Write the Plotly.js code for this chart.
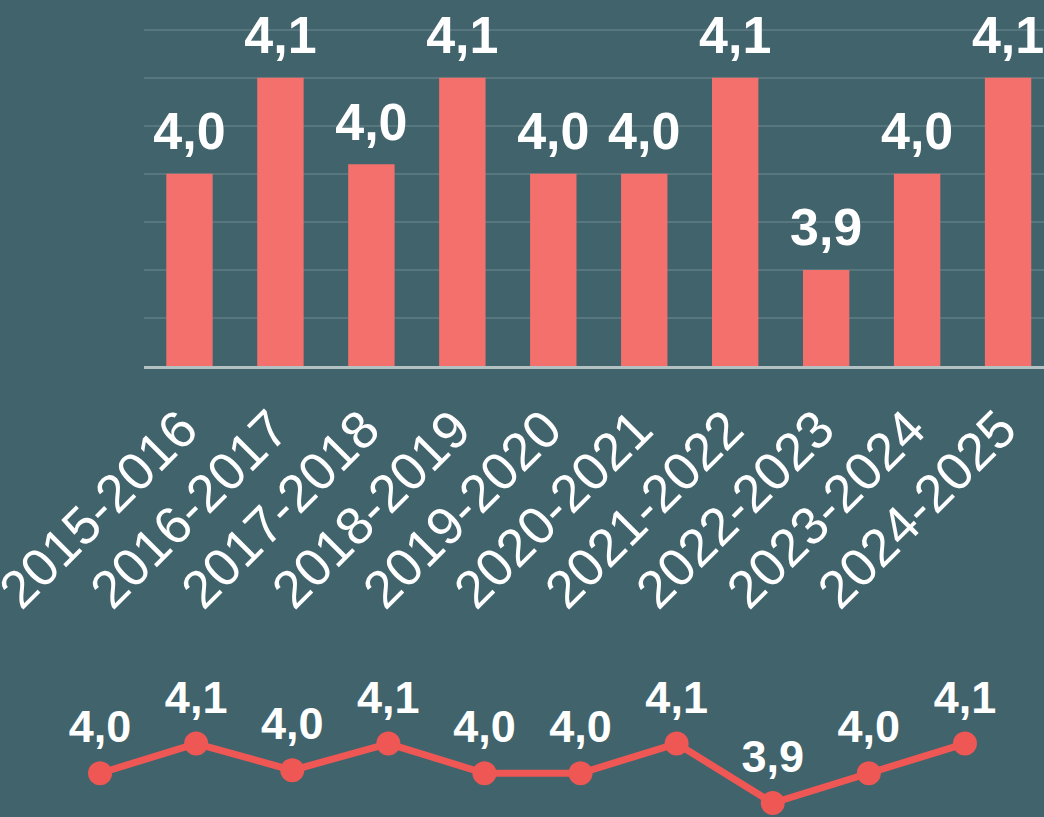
<!DOCTYPE html>
<html>
<head>
<meta charset="utf-8">
<script src="https://cdn.plot.ly/plotly-3.0.1.min.js"></script>
<style>
  html, body { margin: 0; padding: 0; background: #41636c; }
  #chart { width: 1044px; height: 817px; }
</style>
</head>
<body>
<div id="chart"></div>
<script>
// ---- data ----
const categories = ['2015-2016', '2016-2017', '2017-2018', '2018-2019', '2019-2020',
                    '2020-2021', '2021-2022', '2022-2023', '2023-2024', '2024-2025'];
const barValues  = [4.0, 4.1, 4.01, 4.1, 4.0, 4.0, 4.1, 3.9, 4.0, 4.1];
const lineValues = [4.0, 4.1, 4.01, 4.1, 4.0, 4.0, 4.1, 3.9, 4.0, 4.1];

// ---- style ----
const BG = '#41636c';
const BAR_COLOR = '#f4706d';
const LINE_COLOR = '#ef5754';
const FONT = 'Liberation Sans, Arial, sans-serif';

const traces = [
  {
    type: 'bar',
    x: categories,
    y: barValues,
    xaxis: 'x', yaxis: 'y',
    marker: { color: BAR_COLOR },
    hoverinfo: 'x+y'
  },
  {
    type: 'scatter',
    mode: 'markers+text',
    x: categories,
    y: barValues,
    xaxis: 'x', yaxis: 'y',
    marker: { size: 17, color: 'rgba(0,0,0,0)' },
    texttemplate: '%{y:.1f}',
    textposition: 'top center',
    textfont: { family: FONT, size: 52, color: '#ffffff', weight: 'bold' },
    cliponaxis: false,
    hoverinfo: 'skip'
  },
  {
    type: 'scatter',
    mode: 'lines+markers',
    x: categories,
    y: lineValues,
    xaxis: 'x2', yaxis: 'y2',
    line: { color: LINE_COLOR, width: 7 },
    marker: { color: LINE_COLOR, size: 24 },
    cliponaxis: false,
    hoverinfo: 'x+y'
  },
  {
    type: 'scatter',
    mode: 'markers+text',
    x: categories,
    y: lineValues,
    xaxis: 'x2', yaxis: 'y2',
    marker: { size: 30, color: 'rgba(0,0,0,0)' },
    texttemplate: '%{y:.1f}',
    textposition: 'top center',
    textfont: { family: FONT, size: 45, color: '#ffffff', weight: 'bold' },
    cliponaxis: false,
    hoverinfo: 'skip'
  }
];

const layout = {
  width: 1044,
  height: 817,
  margin: { l: 0, r: 0, t: 0, b: 0, pad: 0 },
  paper_bgcolor: BG,
  plot_bgcolor: BG,
  separators: ', ',
  showlegend: false,
  bargap: 0.49,
  font: { family: FONT, color: '#ffffff' },
  xaxis: {
    type: 'category',
    domain: [144 / 1044, 1],
    range: [-0.5, 9.395],
    anchor: 'y',
    showgrid: false,
    showline: true,
    linecolor: '#b3c1c3',
    linewidth: 3,
    ticks: '',
    tickangle: -45,
    ticksuffix: '\u2009',
    ticklabelstandoff: 0,
    tickfont: { family: FONT, size: 53, color: '#ffffff' },
    zeroline: false
  },
  yaxis: {
    domain: [1 - 366 / 817, 1],
    range: [3.8, 4.181],
    anchor: 'x',
    tick0: 3.8,
    dtick: 0.05,
    showticklabels: false,
    gridcolor: 'rgba(255,255,255,0.12)',
    gridwidth: 2,
    zeroline: false
  },
  xaxis2: {
    type: 'category',
    domain: [52 / 1044, 1013 / 1044],
    range: [-0.5, 9.5],
    anchor: 'y2',
    visible: false
  },
  yaxis2: {
    domain: [0, 127 / 817],
    range: [3.853, 4.28],
    anchor: 'x2',
    visible: false
  }
};

Plotly.newPlot('chart', traces, layout, { displayModeBar: false, staticPlot: true });
</script>
</body>
</html>
